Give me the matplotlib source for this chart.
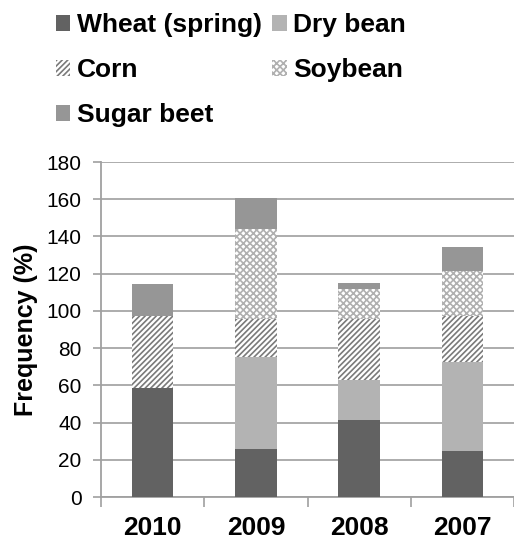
import numpy as np
import matplotlib.pyplot as plt
from matplotlib.patches import Patch

plt.rcParams['font.family'] = ['Liberation Sans', 'DejaVu Sans']
plt.rcParams['hatch.linewidth'] = 1.2

# veriler
years = ['2010', '2009', '2008', '2007']
wheat = [58.6, 25.6, 41.4, 24.9]
dry_bean = [0.0, 49.5, 21.5, 47.5]
corn = [38.7, 20.6, 32.8, 24.7]
soybean = [0.0, 48.4, 16.1, 24.2]
sugar_beet = [17.0, 16.5, 3.3, 12.9]

fig = plt.figure(figsize=(5.14, 5.4), dpi=100)
ax = fig.add_axes([0.1965, 0.0796, 0.8035, 0.6204])

x = np.arange(len(years))
w = 0.4
bottom = np.zeros(len(years))

# seriler: isim, değer, renk, tarama, tarama rengi
series = [
    ('Wheat (spring)', wheat, '#626262', None, '#626262'),
    ('Dry bean', dry_bean, '#b3b3b3', None, '#b3b3b3'),
    ('Corn', corn, 'white', '//////', '#7a7a7a'),
    ('Soybean', soybean, 'white', 'xxxxx', '#b0b0b0'),
    ('Sugar beet', sugar_beet, '#969696', None, '#969696'),
]

handles = {}
for name, vals, col, hatch, hcol in series:
    vals = np.array(vals)
    ax.bar(x, vals, w, bottom=bottom, color=col, hatch=hatch,
           edgecolor=hcol, linewidth=0, zorder=3)
    bottom += vals
    handles[name] = Patch(facecolor=col, hatch=hatch, edgecolor=hcol, linewidth=0)

ax.set_ylim(0, 180)
ax.set_yticks(np.arange(0, 181, 20))
ax.set_xlim(-0.5, 3.415)
ax.set_xticks(x)
ax.set_xticklabels(years, fontsize=19, fontweight='bold')
ax.set_xticks([-0.5, 0.5, 1.5, 2.5, 3.5], minor=True)
ax.tick_params(axis='x', which='major', length=0, pad=13.5)
ax.tick_params(axis='x', which='minor', length=7, width=1.2, color='#a0a0a0')
ax.tick_params(axis='y', labelsize=15, length=6, width=1.2, color='#a0a0a0', pad=8)

ax.grid(axis='y', color='#a6a6a6', linewidth=1.3, zorder=0)
for s in ['top', 'right']:
    ax.spines[s].set_visible(False)
for s in ['left', 'bottom']:
    ax.spines[s].set_color('#a0a0a0')
    ax.spines[s].set_linewidth(1.3)

ax.set_ylabel('Frequency (%)', fontsize=18, fontweight='bold', labelpad=6)

order = ['Wheat (spring)', 'Corn', 'Sugar beet', 'Dry bean', 'Soybean']
fig.legend([handles[k] for k in order], order, ncol=2,
           loc='upper left', bbox_to_anchor=(0.108, 0.976),
           prop={'size': 19, 'weight': 'bold'}, frameon=False,
           handlelength=0.55, handleheight=0.55, handletextpad=0.25,
           columnspacing=0.4, labelspacing=0.8, borderpad=0, borderaxespad=0)

plt.savefig('out.png', dpi=100)
